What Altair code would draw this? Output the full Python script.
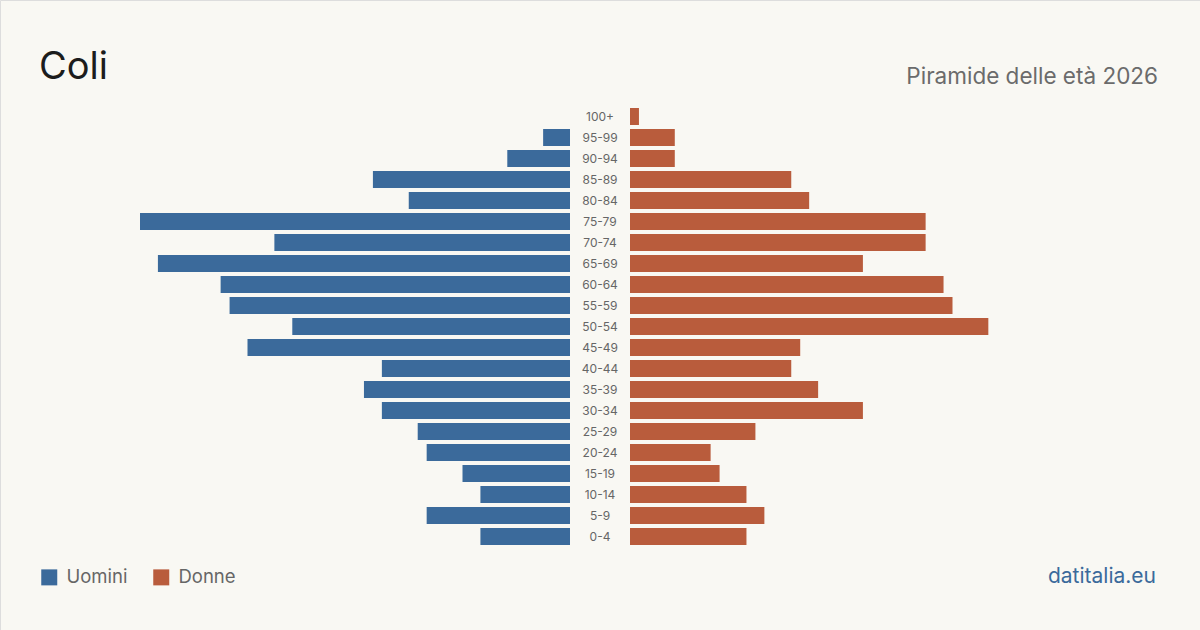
import altair as alt
import pandas as pd

ages = ["100+", "95-99", "90-94", "85-89", "80-84", "75-79", "70-74", "65-69",
        "60-64", "55-59", "50-54", "45-49", "40-44", "35-39", "30-34", "25-29",
        "20-24", "15-19", "10-14", "5-9", "0-4"]
uomini = [0, 3, 7, 22, 18, 48, 33, 46, 39, 38, 31, 36, 21, 23, 21, 17, 16, 12, 10, 16, 10]
donne = [1, 5, 5, 18, 20, 33, 33, 26, 35, 36, 40, 19, 18, 21, 26, 14, 9, 10, 13, 15, 13]

BLUE = "#3b6a9b"
ORANGE = "#b95c3c"
BG = "#f9f8f3"

df_m = pd.DataFrame({"age": ages, "value": uomini, "sex": "Uomini"})
df_f = pd.DataFrame({"age": ages, "value": donne, "sex": "Donne"})
df_lab = pd.DataFrame({"age": ages})

yscale = alt.Scale(domain=ages, range=[106, 547], paddingInner=0.19, paddingOuter=0.095)
color = alt.Color(
    "sex:N",
    scale=alt.Scale(domain=["Uomini", "Donne"], range=[BLUE, ORANGE]),
    legend=alt.Legend(
        title=None, orient="none", legendX=40, legendY=568, direction="horizontal",
        symbolType="square", symbolSize=256, symbolStrokeWidth=0, symbolOpacity=1,
        labelFontSize=18.5, labelColor="#666666", labelFont="Inter",
        labelOffset=8, columnPadding=24,
    ),
)

male = alt.Chart(df_m).mark_bar().encode(
    y=alt.Y("age:N", scale=yscale, axis=None, sort=ages),
    x=alt.X("value:Q", scale=alt.Scale(domain=[0, 48], range=[570, 140]), axis=None),
    x2=alt.datum(0),
    color=color,
)
female = alt.Chart(df_f).mark_bar().encode(
    y=alt.Y("age:N", scale=yscale, axis=None, sort=ages),
    x=alt.X("value:Q", scale=alt.Scale(domain=[0, 48], range=[630, 1060]), axis=None),
    x2=alt.datum(0),
    color=color,
)
labels = alt.Chart(df_lab).mark_text(fontSize=12, color="#666666", font="Inter").encode(
    y=alt.Y("age:N", scale=yscale, axis=None, sort=ages),
    x=alt.value(600),
    text="age:N",
)

title = alt.Chart(pd.DataFrame({"t": ["Coli"]})).mark_text(
    fontSize=38, color="#1c1c1c", align="left", baseline="alphabetic", font="Inter"
).encode(x=alt.value(39), y=alt.value(79), text="t:N")
subtitle = alt.Chart(pd.DataFrame({"t": ["Piramide delle età 2026"]})).mark_text(
    fontSize=22.5, color="#6b6b6b", align="right", baseline="alphabetic", font="Inter"
).encode(x=alt.value(1158), y=alt.value(84), text="t:N")
source = alt.Chart(pd.DataFrame({"t": ["datitalia.eu"]})).mark_text(
    fontSize=21, color=BLUE, align="right", baseline="alphabetic", font="Inter"
).encode(x=alt.value(1156), y=alt.value(583), text="t:N")

chart = alt.layer(male, female, labels, title, subtitle, source).resolve_scale(
    x="independent"
).properties(
    width=1200, height=630, background=BG, padding=0,
    autosize=alt.AutoSizeParams(type="none"),
).configure_view(stroke=None).configure(font="Inter")

chart.save("out.html", embed_options={"renderer": "svg", "actions": False})
